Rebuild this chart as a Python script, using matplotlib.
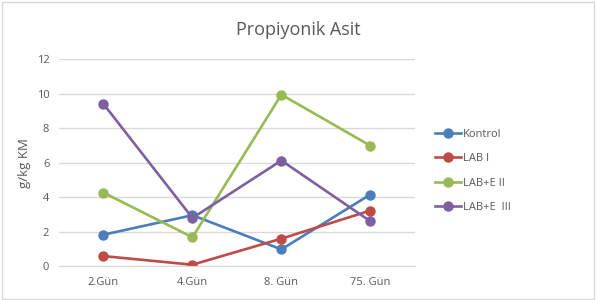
import matplotlib.pyplot as plt
from matplotlib.patches import Rectangle

categories = ['2.Gün', '4.Gün', '8. Gün', '75. Gün']
kontrol = [1.82, 2.95, 0.97, 4.15]
lab_1 = [0.58, 0.08, 1.59, 3.22]
lab_e_2 = [4.26, 1.67, 9.94, 6.98]
lab_e_3 = [9.40, 2.79, 6.12, 2.60]

series = [
    ('Kontrol', kontrol, '#4a7ebb'),
    ('LAB I', lab_1, '#be4b48'),
    ('LAB+E II', lab_e_2, '#98b954'),
    ('LAB+E  III', lab_e_3, '#7d60a0'),
]

plt.rcParams['font.family'] = ['Open Sans', 'DejaVu Sans']
text_col = '#595959'

fig = plt.figure(figsize=(5.96, 3.0), dpi=100)
fig.patches.append(Rectangle((0.003, 0.005), 0.994, 0.99, transform=fig.transFigure,
                             fill=False, edgecolor='#d9d9d9', linewidth=1))
ax = fig.add_axes([0.099, 0.113, 0.597, 0.690])

x = range(len(categories))
for name, vals, col in series:
    ax.plot(x, vals, color=col, linewidth=1.9, marker='o', markersize=6.5, label=name)

ax.set_xlim(-0.5, 3.5)
ax.set_ylim(0, 12)
ax.set_yticks(range(0, 13, 2))
ax.set_xticks(list(x))
ax.set_xticklabels(categories)
ax.grid(axis='y', color='#d9d9d9', linewidth=1)
ax.set_axisbelow(True)
for s in ['top', 'right', 'left']:
    ax.spines[s].set_visible(False)
ax.spines['bottom'].set_color('#d9d9d9')
ax.tick_params(length=0, labelsize=8, labelcolor=text_col, pad=8)
ax.tick_params(axis='y', pad=7)
ax.set_ylabel('g/kg KM', fontsize=9.5, color=text_col, labelpad=4)
fig.suptitle('Propiyonik Asit', x=0.5, y=0.93, fontsize=13, color=text_col)

ax.legend(loc='center left', bbox_to_anchor=(1.03, 0.46), frameon=False,
          fontsize=8, labelcolor=text_col, handlelength=2.3, labelspacing=1.2,
          handletextpad=0.2)

fig.savefig('out.png', dpi=100)
